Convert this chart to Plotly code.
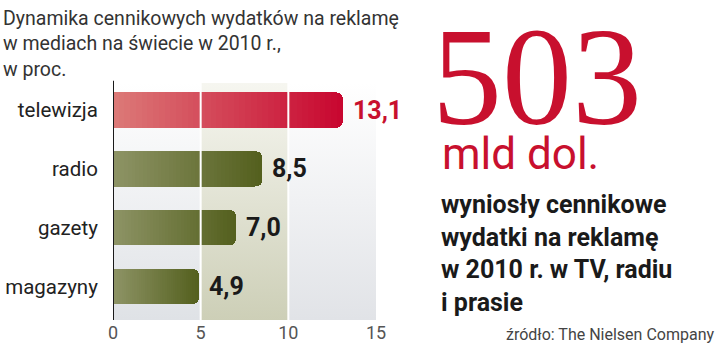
import plotly.graph_objects as go

# ---- data ----
categories = ["telewizja", "radio", "gazety", "magazyny"]
values = [13.1, 8.5, 7.0, 4.9]
value_labels = ["13,1", "8,5", "7,0", "4,9"]
tick_vals = [0, 5, 10, 15]
tick_text = ["0", "5", "10", "15"]

title_lines = ["Dynamika cennikowych wydatków na reklamę",
               "w mediach na świecie w 2010 r.,", "w proc."]
big_number = "503"
big_unit = "mld dol."
side_lines = ["wyniosły cennikowe", "wydatki na reklamę",
              "w 2010 r. w TV, radiu", "i prasie"]
source = "źródło: The Nielsen Company"

# ---- layout geometry ----
W, H = 720, 349
L, R, T, B = 113, 376, 83, 320


def px(x):
    return (x - L) / (R - L)


def py(y):
    return (B - y) / (B - T)


def hexrgb(h):
    h = h.lstrip("#")
    return tuple(int(h[i:i + 2], 16) for i in (0, 2, 4))


def mix(a, b, t):
    ca, cb = hexrgb(a), hexrgb(b)
    return "rgb(%d,%d,%d)" % tuple(round(ca[i] + (cb[i] - ca[i]) * t) for i in range(3))


RED = ("#dc7a78", "#c8062f")
GREEN = ("#8e9466", "#535f1d")
bar_cols = [RED, GREEN, GREEN, GREEN]
label_cols = ["#c8102e", "#1a1a1a", "#1a1a1a", "#1a1a1a"]

ypos = list(range(len(categories)))[::-1]  # telewizja at top

FONT = "Roboto, sans-serif"

fig = go.Figure()

# background bands with vertical gradient (base axes, drawn underneath)
band_cols = [("#dfe2e6", "#ffffff"), ("#cdcfb7", "#f6f6f0"), ("#e1e3e7", "#ffffff")]
ylo, yhi = -0.57, 3.46
for i in range(len(tick_vals) - 1):
    a, b = tick_vals[i], tick_vals[i + 1]
    fig.add_trace(go.Scatter(
        x=[a, b, b, a, a], y=[ylo, ylo, yhi, yhi, ylo], mode="lines",
        line=dict(width=0), fill="toself",
        fillgradient=dict(type="vertical",
                          colorscale=[[0, band_cols[i][0]], [1, band_cols[i][1]]]),
        hoverinfo="skip", showlegend=False))

# bars with horizontal gradient (stacked slices) on overlaying axes
N = 40
for k in range(N):
    t = (k + 0.5) / N
    fig.add_trace(go.Bar(
        x=[v / N for v in values], y=ypos, orientation="h",
        xaxis="x2", yaxis="y2",
        marker=dict(color=[mix(c[0], c[1], t) for c in bar_cols], line=dict(width=0)),
        hoverinfo="skip", showlegend=False))

# white grid lines above the bars
for t in tick_vals[1:-1]:
    fig.add_shape(type="line", xref="x", yref="paper", x0=t, x1=t, y0=0, y1=1,
                  line=dict(color="white", width=2), layer="above")
# axis line at zero
fig.add_shape(type="line", xref="x", yref="paper", x0=tick_vals[0], x1=tick_vals[0],
              y0=0, y1=1.01, line=dict(color="#1a1a1a", width=2), layer="above")

annotations = []
for v, yv, lab, col in zip(values, ypos, value_labels, label_cols):
    annotations.append(dict(x=v, y=yv, xref="x", yref="y", text="<b>%s</b>" % lab,
                            xanchor="left", yanchor="middle", xshift=8, showarrow=False,
                            font=dict(family=FONT, size=25, color=col)))

annotations.append(dict(x=px(1), y=py(5), xref="paper", yref="paper",
                        text="<br>".join(title_lines), xanchor="left", yanchor="top",
                        align="left", showarrow=False,
                        font=dict(family=FONT, size=19.5, color="#333333")))
annotations.append(dict(x=px(430), y=py(156), xref="paper", yref="paper",
                        text=big_number, xanchor="left", yanchor="bottom", showarrow=False,
                        font=dict(family="Liberation Serif, serif", size=140, color="#c8102e")))
annotations.append(dict(x=px(440), y=py(182), xref="paper", yref="paper",
                        text=big_unit, xanchor="left", yanchor="bottom", showarrow=False,
                        font=dict(family=FONT, size=44, color="#c8102e")))
annotations.append(dict(x=px(439), y=py(188), xref="paper", yref="paper",
                        text="<b>" + "<br>".join(side_lines) + "</b>", xanchor="left",
                        yanchor="top", align="left", showarrow=False,
                        font=dict(family=FONT, size=25, color="#1a1a1a")))
annotations.append(dict(x=px(716), y=py(346), xref="paper", yref="paper",
                        text=source, xanchor="right", yanchor="bottom", showarrow=False,
                        font=dict(family=FONT, size=16, color="#444444")))

fig.update_layout(
    width=W, height=H,
    margin=dict(l=L, r=W - R, t=T, b=H - B, pad=0, autoexpand=False),
    paper_bgcolor="white", plot_bgcolor="white",
    barmode="stack", bargap=0.4, barcornerradius=6,
    showlegend=False,
    annotations=annotations,
    xaxis=dict(range=[tick_vals[0], tick_vals[-1]], tickvals=tick_vals, ticktext=tick_text,
               showgrid=False, zeroline=False, showline=False, ticks="", automargin=False,
               tickfont=dict(family=FONT, size=18, color="#555555"), fixedrange=True),
    yaxis=dict(range=[ylo, yhi], tickvals=ypos, ticktext=categories,
               showgrid=False, zeroline=False, showline=False, automargin=False,
               ticks="outside", ticklen=10, tickcolor="rgba(0,0,0,0)",
               tickfont=dict(family=FONT, size=20.5, color="#222222"), fixedrange=True),
    xaxis2=dict(overlaying="x", matches="x", visible=False, showgrid=False,
                zeroline=False, fixedrange=True),
    yaxis2=dict(overlaying="y", matches="y", visible=False, showgrid=False,
                zeroline=False, fixedrange=True),
)

fig.write_html("out.html", config={"displayModeBar": False})
